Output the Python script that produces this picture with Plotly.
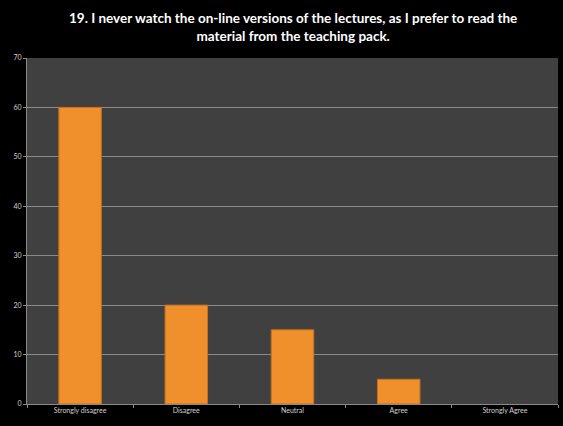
import plotly.graph_objects as go

categories = ["Strongly disagree", "Disagree", "Neutral", "Agree", "Strongly Agree"]
values = [60, 20, 15, 5, 0]
title_text = "19. I never watch the on-line versions of the lectures, as I prefer to read the<br>material from the teaching pack."

fig = go.Figure()
fig.add_trace(go.Bar(
    x=categories, y=values,
    marker=dict(color="#F0902C", line=dict(color="#C8701E", width=[1, 1, 1, 1, 0])),
    width=0.4,
))
fig.add_annotation(
    text=title_text, xref="paper", yref="paper", x=0.5, y=1.035,
    xanchor="center", yanchor="bottom", showarrow=False, align="center",
    font=dict(family="Lato", size=13.5, color="white", weight="bold"),
)
fig.update_layout(
    width=563, height=426,
    paper_bgcolor="#000000", plot_bgcolor="#404040",
    margin=dict(l=27, r=5, t=58, b=22),
    showlegend=False,
    xaxis=dict(showgrid=False, showline=True, linecolor="#8a8a8a", linewidth=1,
               ticks="outside", ticklen=3, tickcolor="#8a8a8a", tickson="boundaries",
               tickfont=dict(family="Lato", size=7, color="#d0d0d0")),
    yaxis=dict(range=[0, 70], dtick=10, showgrid=True, gridcolor="#8a8a8a", gridwidth=1,
               showline=True, linecolor="#8a8a8a", ticks="outside", ticklen=3, tickcolor="#8a8a8a",
               zeroline=False,
               tickfont=dict(family="Lato", size=7, color="#d0d0d0")),
)
fig.write_html("out.html")
